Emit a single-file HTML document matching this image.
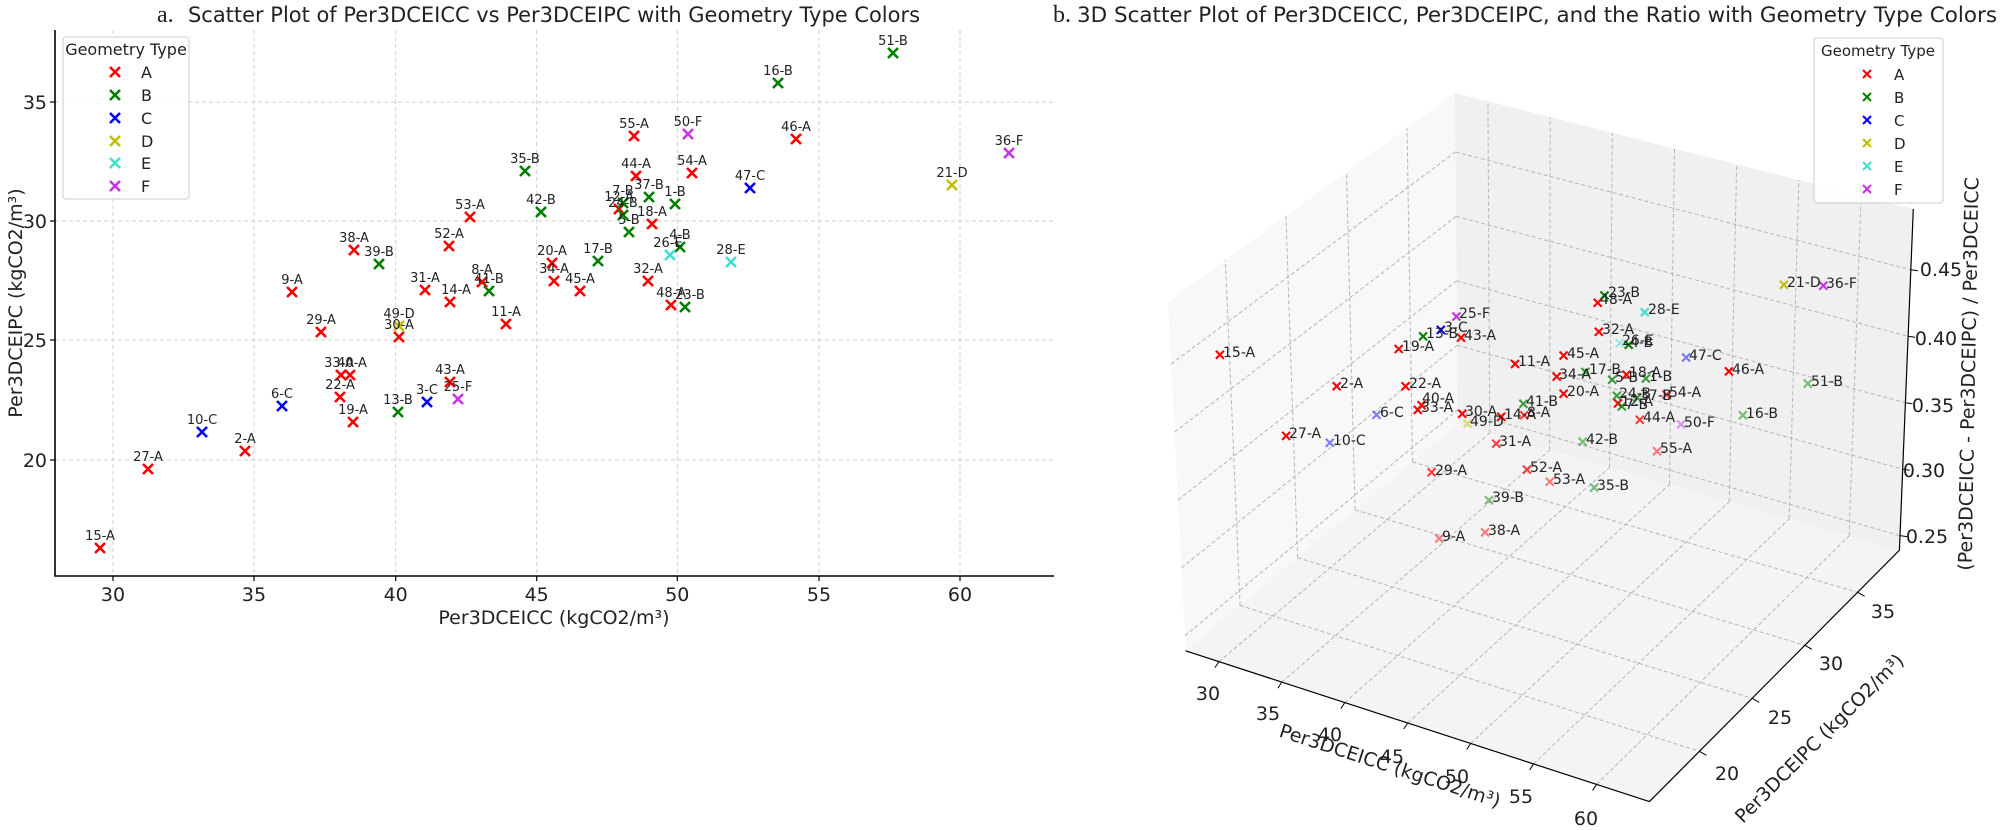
<!DOCTYPE html>
<html><head><meta charset="utf-8">
<style>
html,body{margin:0;padding:0;background:#fff;}
svg{display:block;font-family:"DejaVu Sans","Liberation Sans",sans-serif;}
.g{stroke:#cfcfcf;stroke-width:1;stroke-dasharray:4 3;fill:none}
.A{stroke:#ff0000}.B{stroke:#008000}.C{stroke:#0000ff}.D{stroke:#bfbf00}.E{stroke:#40e0d0}.F{stroke:#c832e6}
.mk{fill:none;stroke-width:2.6}
.m3{fill:none;stroke-width:2.1}
.lb{font-size:13px;fill:#222;text-anchor:middle}
.lb3{font-size:14px;fill:#222}
.l{opacity:.5}.m{opacity:.75}
.tk{font-size:19px;fill:#222}
</style></head><body>
<svg width="2000" height="830" viewBox="0 0 2000 830" xmlns="http://www.w3.org/2000/svg">
<defs>
<path id="x1" d="M-5-5L5 5M-5 5L5-5"/>
<path id="x3" d="M-4-4L4 4M-4 4L4-4"/>
</defs>
<!-- ============ LEFT PLOT ============ -->
<text x="157" y="22" font-family="Liberation Serif,serif" font-size="24" fill="#222">a.</text>
<text x="188" y="22" font-size="21" fill="#222" textLength="732" lengthAdjust="spacingAndGlyphs">Scatter Plot of Per3DCEICC vs Per3DCEIPC with Geometry Type Colors</text>
<g class="g">
<line x1="113" y1="30" x2="113" y2="576"/><line x1="254" y1="30" x2="254" y2="576"/><line x1="395.7" y1="30" x2="395.7" y2="576"/><line x1="536.7" y1="30" x2="536.7" y2="576"/><line x1="677.3" y1="30" x2="677.3" y2="576"/><line x1="819" y1="30" x2="819" y2="576"/><line x1="960" y1="30" x2="960" y2="576"/>
<line x1="55" y1="102" x2="1054" y2="102"/><line x1="55" y1="221" x2="1054" y2="221"/><line x1="55" y1="340" x2="1054" y2="340"/><line x1="55" y1="460" x2="1054" y2="460"/>
</g>
<path d="M55 30V576H1054" fill="none" stroke="#000" stroke-width="1.6"/>
<g stroke="#000" stroke-width="1.2">
<line x1="113" y1="576" x2="113" y2="581"/><line x1="254" y1="576" x2="254" y2="581"/><line x1="395.7" y1="576" x2="395.7" y2="581"/><line x1="536.7" y1="576" x2="536.7" y2="581"/><line x1="677.3" y1="576" x2="677.3" y2="581"/><line x1="819" y1="576" x2="819" y2="581"/><line x1="960" y1="576" x2="960" y2="581"/>
<line x1="50" y1="102" x2="55" y2="102"/><line x1="50" y1="221" x2="55" y2="221"/><line x1="50" y1="340" x2="55" y2="340"/><line x1="50" y1="460" x2="55" y2="460"/>
</g>
<g class="tk" text-anchor="middle">
<text x="113" y="601">30</text><text x="254" y="601">35</text><text x="395.7" y="601">40</text><text x="536.7" y="601">45</text><text x="677.3" y="601">50</text><text x="819" y="601">55</text><text x="960" y="601">60</text>
</g>
<g class="tk" text-anchor="end">
<text x="47" y="109">35</text><text x="47" y="228">30</text><text x="47" y="347">25</text><text x="47" y="467">20</text>
</g>
<text x="554" y="624" font-size="19" text-anchor="middle" fill="#222">Per3DCEICC (kgCO2/m³)</text>
<text transform="translate(22,303) rotate(-90)" font-size="19" text-anchor="middle" fill="#222">Per3DCEIPC (kgCO2/m³)</text>

<g class="mk">
<g class="A"><use href="#x1" x="100" y="548"/><use href="#x1" x="148" y="469"/><use href="#x1" x="245" y="451"/><use href="#x1" x="292" y="292"/><use href="#x1" x="321" y="332"/><use href="#x1" x="354" y="250"/><use href="#x1" x="341" y="375"/><use href="#x1" x="350" y="375"/><use href="#x1" x="340" y="397"/><use href="#x1" x="353" y="422"/><use href="#x1" x="399" y="337"/><use href="#x1" x="425" y="290"/><use href="#x1" x="450" y="302"/><use href="#x1" x="449" y="246"/><use href="#x1" x="470" y="217"/><use href="#x1" x="450" y="382"/><use href="#x1" x="482" y="282"/><use href="#x1" x="506" y="324"/><use href="#x1" x="552" y="263"/><use href="#x1" x="554" y="281"/><use href="#x1" x="580" y="291"/><use href="#x1" x="619" y="209"/><use href="#x1" x="634" y="136"/><use href="#x1" x="636" y="176"/><use href="#x1" x="652" y="224"/><use href="#x1" x="648" y="281"/><use href="#x1" x="671" y="305"/><use href="#x1" x="692" y="173"/><use href="#x1" x="796" y="139"/></g>
<g class="B"><use href="#x1" x="379" y="264"/><use href="#x1" x="398" y="412"/><use href="#x1" x="489" y="291"/><use href="#x1" x="525" y="171"/><use href="#x1" x="541" y="212"/><use href="#x1" x="598" y="261"/><use href="#x1" x="623" y="203"/><use href="#x1" x="623" y="215"/><use href="#x1" x="629" y="232"/><use href="#x1" x="649" y="197"/><use href="#x1" x="685" y="307"/><use href="#x1" x="680" y="247"/><use href="#x1" x="675" y="204"/><use href="#x1" x="778" y="83"/><use href="#x1" x="893" y="53"/></g>
<g class="C"><use href="#x1" x="202" y="432"/><use href="#x1" x="282" y="406"/><use href="#x1" x="427" y="402"/><use href="#x1" x="750" y="188"/></g>
<g class="D"><use href="#x1" x="399" y="326"/><use href="#x1" x="952" y="185"/></g>
<g class="E"><use href="#x1" x="670" y="255"/><use href="#x1" x="731" y="262"/></g>
<g class="F"><use href="#x1" x="458" y="399"/><use href="#x1" x="688" y="134"/><use href="#x1" x="1009" y="153"/></g>
</g>
<g class="lb">
<text x="100" y="540">15-A</text><text x="148" y="461">27-A</text><text x="245" y="443">2-A</text><text x="202" y="424">10-C</text><text x="282" y="398">6-C</text><text x="292" y="284">9-A</text><text x="321" y="324">29-A</text><text x="354" y="242">38-A</text><text x="379" y="256">39-B</text><text x="339" y="367">33-A</text><text x="352" y="367">40-A</text><text x="340" y="389">22-A</text><text x="353" y="414">19-A</text><text x="399" y="318">49-D</text><text x="399" y="329">30-A</text><text x="398" y="404">13-B</text><text x="427" y="394">3-C</text><text x="425" y="282">31-A</text><text x="456" y="294">14-A</text><text x="449" y="238">52-A</text><text x="470" y="209">53-A</text><text x="450" y="374">43-A</text><text x="458" y="391">25-F</text><text x="482" y="274">8-A</text><text x="489" y="283">41-B</text><text x="506" y="316">11-A</text><text x="525" y="163">35-B</text><text x="541" y="204">42-B</text><text x="552" y="255">20-A</text><text x="554" y="273">34-A</text><text x="580" y="283">45-A</text><text x="598" y="253">17-B</text><text x="619" y="201">12-A</text><text x="623" y="195">7-B</text><text x="623" y="207">24-B</text><text x="629" y="224">5-B</text><text x="634" y="128">55-A</text><text x="636" y="168">44-A</text><text x="649" y="189">37-B</text><text x="652" y="216">18-A</text><text x="648" y="273">32-A</text><text x="671" y="297">48-A</text><text x="690" y="299">23-B</text><text x="668" y="247">26-E</text><text x="680" y="239">4-B</text><text x="675" y="196">1-B</text><text x="688" y="126">50-F</text><text x="692" y="165">54-A</text><text x="750" y="180">47-C</text><text x="731" y="254">28-E</text><text x="778" y="75">16-B</text><text x="796" y="131">46-A</text><text x="893" y="45">51-B</text><text x="952" y="177">21-D</text><text x="1009" y="145">36-F</text>
</g>
<rect x="63" y="37" width="126" height="162" rx="3" fill="#fff" fill-opacity="0.85" stroke="#cccccc"/>
<text x="126" y="55" font-size="16" text-anchor="middle" fill="#222">Geometry Type</text>
<g class="mk">
<use class="A" href="#x1" x="115" y="72"/><use class="B" href="#x1" x="115" y="95"/><use class="C" href="#x1" x="115" y="118"/><use class="D" href="#x1" x="115" y="141"/><use class="E" href="#x1" x="115" y="163"/><use class="F" href="#x1" x="115" y="186"/>
</g>
<g font-size="16" fill="#222"><text x="141" y="78">A</text><text x="141" y="101">B</text><text x="141" y="124">C</text><text x="141" y="147">D</text><text x="141" y="169">E</text><text x="141" y="192">F</text></g>

<!-- ============ RIGHT 3D PLOT ============ -->
<text x="1053" y="22" font-family="Liberation Serif,serif" font-size="24" fill="#222">b.</text>
<text x="1077" y="22" font-size="21" fill="#222" textLength="920" lengthAdjust="spacingAndGlyphs">3D Scatter Plot of Per3DCEICC, Per3DCEIPC, and the Ratio with Geometry Type Colors</text>
<polygon points="1185.6,650.8 1458,424 1455,93 1168,302" fill="#f8f8f8"/>
<polygon points="1458,424 1899.4,550.3 1913.3,209 1455,93" fill="#f0f0f0"/>
<polygon points="1185.6,650.8 1649.4,801.6 1899.4,550.3 1458,424" fill="#f4f4f4"/>
<g id="grid3" stroke="#b5b5b5" stroke-width="1" stroke-dasharray="4 2.5" fill="none"></g>
<path d="M1185.6 650.8L1649.4 801.6L1899.4 550.3L1913.3 209" fill="none" stroke="#000" stroke-width="1.2"/>
<g id="ticks3" stroke="#000" stroke-width="1"></g>
<g class="tk" text-anchor="middle">
<text x="1208" y="700">30</text><text x="1268" y="720">35</text><text x="1330" y="741">40</text><text x="1392" y="763">45</text><text x="1457" y="783">50</text><text x="1521" y="803">55</text><text x="1586" y="825">60</text>
<text x="1727" y="780">20</text><text x="1780" y="724">25</text><text x="1831" y="670">30</text><text x="1883" y="618">35</text>
<text x="1927" y="543">0.25</text><text x="1924" y="477">0.30</text><text x="1933" y="412">0.35</text><text x="1936" y="345">0.40</text><text x="1941" y="276">0.45</text>
</g>
<text transform="translate(1388,772) rotate(18)" font-size="19" text-anchor="middle" fill="#222">Per3DCEICC (kgCO2/m³)</text>
<text transform="translate(1824,743) rotate(-45)" font-size="19" text-anchor="middle" fill="#222">Per3DCEIPC (kgCO2/m³)</text>
<text transform="translate(1975,374) rotate(-89)" font-size="19" text-anchor="middle" fill="#222">(Per3DCEICC - Per3DCEIPC) / Per3DCEICC</text>

<g class="m3">
<g class="A"><use href="#x3" x="1219.9" y="354.8"/><use href="#x3" x="1336.7" y="386.2"/><use href="#x3" x="1286.1" y="435.9"/><use href="#x3" x="1398.7" y="349"/><use href="#x3" x="1461" y="337.6"/><use href="#x3" x="1405.5" y="386.2"/><use href="#x3" x="1421.6" y="405.3"/><use href="#x3" x="1417.8" y="409.9"/><use href="#x3" x="1462.2" y="413.7"/><use href="#x3" x="1501.2" y="416.8"/><use href="#x3" x="1524.2" y="415.2" class="m"/><use href="#x3" x="1496.2" y="443.6" class="m"/><use href="#x3" x="1431.6" y="472.3" class="m"/><use href="#x3" x="1526.9" y="469.6" class="m"/><use href="#x3" x="1549.8" y="481.8" class="l"/><use href="#x3" x="1439.2" y="538.5" class="l"/><use href="#x3" x="1485.1" y="532.4" class="l"/><use href="#x3" x="1515" y="364"/><use href="#x3" x="1563.6" y="355.5"/><use href="#x3" x="1556.7" y="376.6"/><use href="#x3" x="1563.6" y="393.8"/><use href="#x3" x="1597.7" y="302.7"/><use href="#x3" x="1598.8" y="331.8"/><use href="#x3" x="1626.4" y="374.7"/><use href="#x3" x="1618" y="403.4"/><use href="#x3" x="1666.5" y="394.6" class="m"/><use href="#x3" x="1639.8" y="419.8" class="m"/><use href="#x3" x="1657" y="451.2" class="l"/><use href="#x3" x="1728.9" y="371.4"/></g>
<g class="B"><use href="#x3" x="1423.1" y="336.4"/><use href="#x3" x="1523.4" y="403.8" class="m"/><use href="#x3" x="1489" y="500.2" class="l"/><use href="#x3" x="1594.2" y="487.6" class="l"/><use href="#x3" x="1582.7" y="441.7" class="l"/><use href="#x3" x="1585.4" y="372" class="m"/><use href="#x3" x="1604.5" y="295.5"/><use href="#x3" x="1628.7" y="344.8"/><use href="#x3" x="1612.2" y="379.7" class="m"/><use href="#x3" x="1645.9" y="378.5" class="m"/><use href="#x3" x="1616.8" y="395.7" class="m"/><use href="#x3" x="1637.1" y="397.6" class="m"/><use href="#x3" x="1621.8" y="406.4" class="m"/><use href="#x3" x="1807.8" y="383.6" class="l"/><use href="#x3" x="1742.8" y="415.3" class="l"/></g>
<g class="C"><use href="#x3" x="1329.8" y="442.8" class="l"/><use href="#x3" x="1376.5" y="414.9" class="l"/><use href="#x3" x="1440.8" y="329.9"/><use href="#x3" x="1686.1" y="357.5" class="l"/></g>
<g class="D"><use href="#x3" x="1467.5" y="423.7" class="l"/><use href="#x3" x="1783.9" y="284.7"/></g>
<g class="E"><use href="#x3" x="1644.7" y="312.3"/><use href="#x3" x="1619.9" y="343.3" class="l"/></g>
<g class="F"><use href="#x3" x="1456.4" y="316.5"/><use href="#x3" x="1681.1" y="424.4" class="l"/><use href="#x3" x="1823.3" y="285.7"/></g>
</g>
<g class="lb3">
<text x="1223" y="357">15-A</text><text x="1340" y="388">2-A</text><text x="1289" y="438">27-A</text><text x="1333" y="445">10-C</text><text x="1380" y="417">6-C</text><text x="1402" y="351">19-A</text><text x="1426" y="338">13-B</text><text x="1444" y="332">3-C</text><text x="1459" y="318">25-F</text><text x="1464" y="340">43-A</text><text x="1409" y="388">22-A</text><text x="1422" y="403">40-A</text><text x="1421" y="412">33-A</text><text x="1465" y="416">30-A</text><text x="1470" y="426">49-D</text><text x="1504" y="419">14-A</text><text x="1527" y="417">8-A</text><text x="1526" y="406">41-B</text><text x="1499" y="446">31-A</text><text x="1435" y="475">29-A</text><text x="1530" y="472">52-A</text><text x="1553" y="484">53-A</text><text x="1492" y="502">39-B</text><text x="1442" y="541">9-A</text><text x="1488" y="535">38-A</text><text x="1597" y="490">35-B</text><text x="1586" y="444">42-B</text><text x="1518" y="366">11-A</text><text x="1567" y="358">45-A</text><text x="1559" y="379">34-A</text><text x="1589" y="374">17-B</text><text x="1567" y="396">20-A</text><text x="1608" y="297">23-B</text><text x="1600" y="304">48-A</text><text x="1648" y="314">28-E</text><text x="1602" y="334">32-A</text><text x="1622" y="345">26-E</text><text x="1630" y="347">4-B</text><text x="1615" y="382">5-B</text><text x="1629" y="377">18-A</text><text x="1649" y="381">1-B</text><text x="1619" y="398">24-B</text><text x="1640" y="400">37-B</text><text x="1621" y="406">12-A</text><text x="1625" y="409">7-B</text><text x="1669" y="397">54-A</text><text x="1643" y="422">44-A</text><text x="1684" y="427">50-F</text><text x="1660" y="453">55-A</text><text x="1689" y="360">47-C</text><text x="1732" y="374">46-A</text><text x="1811" y="386">51-B</text><text x="1746" y="418">16-B</text><text x="1787" y="287">21-D</text><text x="1826" y="288">36-F</text>
</g>
<rect x="1814" y="38" width="129" height="165" rx="3" fill="#fff" fill-opacity="0.9" stroke="#cccccc"/>
<text x="1878" y="56" font-size="15" text-anchor="middle" fill="#222">Geometry Type</text>
<g class="m3">
<use class="A" href="#x3" x="1867" y="74"/><use class="B" href="#x3" x="1867" y="97"/><use class="C" href="#x3" x="1867" y="120"/><use class="D" href="#x3" x="1867" y="143"/><use class="E" href="#x3" x="1867" y="166"/><use class="F" href="#x3" x="1867" y="189"/>
</g>
<g font-size="15" fill="#222"><text x="1894" y="80">A</text><text x="1894" y="103">B</text><text x="1894" y="126">C</text><text x="1894" y="149">D</text><text x="1894" y="172">E</text><text x="1894" y="195">F</text></g>
</svg>
<script>
(function(){
var NS="http://www.w3.org/2000/svg";
var xmin=27.35,xmax=64.2,ymin=15.26,ymax=38.96,zmin=0.239,zmax=0.4957;
var FLF=[1185.6,650.8],FRF=[1649.4,801.6],FRB=[1899.4,550.3],FLB=[1458,424],TLB=[1455,93],TLF=[1168,302],TRB=[1913.3,209];
function bl(c00,c10,c11,c01,u,v){return [(1-u)*(1-v)*c00[0]+u*(1-v)*c10[0]+u*v*c11[0]+(1-u)*v*c01[0],(1-u)*(1-v)*c00[1]+u*(1-v)*c10[1]+u*v*c11[1]+(1-u)*v*c01[1]];}
var g=document.getElementById("grid3"),t=document.getElementById("ticks3");
function ln(p,q,par){var l=document.createElementNS(NS,"line");l.setAttribute("x1",p[0]);l.setAttribute("y1",p[1]);l.setAttribute("x2",q[0]);l.setAttribute("y2",q[1]);par.appendChild(l);}
var xs=[30,35,40,45,50,55,60],ys=[20,25,30,35],zs=[0.25,0.30,0.35,0.40,0.45];
function fx(x){return (x-xmin)/(xmax-xmin);}function fy(y){return (y-ymin)/(ymax-ymin);}function fz(z){return (z-zmin)/(zmax-zmin);}
xs.forEach(function(x){var u=fx(x);
 ln(bl(FLF,FRF,FRB,FLB,u,0),bl(FLF,FRF,FRB,FLB,u,1),g);
 ln(bl(FLB,FRB,TRB,TLB,u,0),bl(FLB,FRB,TRB,TLB,u,1),g);
 var p=bl(FLF,FRF,FRB,FLB,u,0);ln(p,[p[0]-4,p[1]+6],t);});
ys.forEach(function(y){var v=fy(y);
 ln(bl(FLF,FRF,FRB,FLB,0,v),bl(FLF,FRF,FRB,FLB,1,v),g);
 ln(bl(FLF,FLB,TLB,TLF,v,0),bl(FLF,FLB,TLB,TLF,v,1),g);
 var p=bl(FLF,FRF,FRB,FLB,1,v);ln(p,[p[0]+7,p[1]+4],t);});
zs.forEach(function(z){var v=fz(z);
 ln(bl(FLF,FLB,TLB,TLF,0,v),bl(FLF,FLB,TLB,TLF,1,v),g);
 ln(bl(FLB,FRB,TRB,TLB,0,v),bl(FLB,FRB,TRB,TLB,1,v),g);
 var p=bl(FLB,FRB,TRB,TLB,1,v);ln(p,[p[0]+7,p[1]+1],t);});
})();
</script>
</body></html>
